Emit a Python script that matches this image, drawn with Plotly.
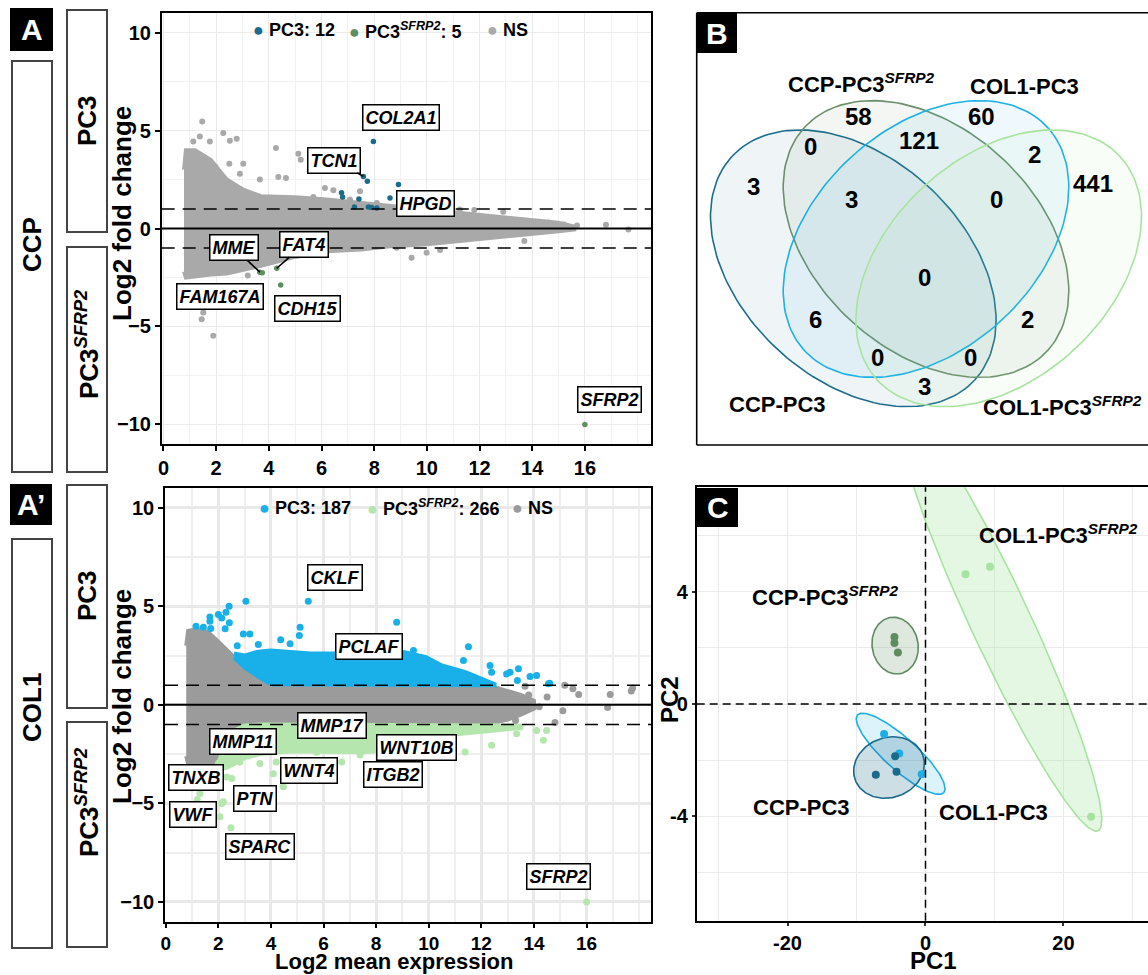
import numpy as np
import plotly.graph_objects as go

W, H = 1148, 975
FONT = "Liberation Sans, Arial, Helvetica, sans-serif"


def px(x):
    return x / W


def py(y):
    return 1 - y / H


# ---------------- DATA ----------------
# Panel A (CCP): MA plot
ccp_env_x = [0.78, 0.85, 1.2, 1.8, 2.4, 3.0, 3.7, 5.0, 6.2, 7.5, 8.7, 10.0, 11.3, 12.5, 13.8, 15.0, 15.6]
ccp_env_hi = [3.0, 4.0, 4.0, 3.5, 2.5, 2.0, 1.65, 1.6, 1.48, 1.3, 1.17, 0.97, 0.8, 0.63, 0.46, 0.29, 0.1]
ccp_env_lo = [-2.2, -2.5, -2.45, -2.35, -2.3, -2.1, -1.9, -1.45, -1.16, -1.07, -0.9, -0.81, -0.64, -0.47, -0.3, -0.14, -0.05]
ccp_ns_x = [1.47, 2.27, 2.52, 2.78, 1.38, 1.13, 1.76, 4.27, 5.12, 5.21, 3.03, 1.96, 2.50, 4.36, 4.65, 3.66,
            6.13, 6.45, 5.69, 7.46, 7.08, 8.10, 11.25, 16.8, 17.65, 15.7, 13.7, 9.42, 9.99, 8.85, 5.81,
            1.51, 1.89, 1.45, 1.77, 14.6, 15.2, 12.9, 10.5, 11.8, 3.2, 2.9]
ccp_ns_y = [5.46, 4.87, 4.48, 4.58, 4.70, 4.44, 4.44, 4.11, 3.82, 3.51, 3.31, 3.17, 3.30, 2.63, 2.58, 2.50,
            2.07, 1.95, 1.61, 1.90, 1.48, 1.30, 0.97, 0.19, -0.05, 0.15, -0.64, -1.49, -1.24, -0.98, -1.24,
            -4.29, -5.48, -4.63, -3.95, 0.3, 0.2, 0.85, -1.1, 0.95, -2.4, 2.8]
ccp_pc3_x = [7.97, 7.59, 7.74, 8.92, 6.76, 6.80, 7.42, 8.60, 7.25, 7.78, 7.90, 8.10]
ccp_pc3_y = [4.44, 2.66, 2.41, 2.24, 1.82, 1.61, 1.51, 1.56, 1.10, 1.10, 1.07, 1.05]
ccp_sfrp2_x = [3.66, 3.75, 4.30, 4.45, 16.0]
ccp_sfrp2_y = [-2.23, -2.26, -2.03, -2.88, -10.0]
ccp_counts = {"PC3": 12, "PC3_SFRP2": 5}
ccp_genes = ["COL2A1", "TCN1", "HPGD", "MME", "FAT4", "FAM167A", "CDH15", "SFRP2"]
ccp_gene_x = [7.97, 7.59, 8.60, 3.66, 4.30, 3.75, 4.45, 16.0]
ccp_gene_y = [4.44, 2.66, 1.56, -2.23, -2.03, -2.26, -2.88, -10.0]

# Panel A' (COL1): MA plot
col_env_x = [0.78, 0.85, 1.2, 1.6, 2.0, 2.3, 2.6, 3.0, 3.6, 4.0, 5, 6, 7, 8, 9, 10, 11, 12, 12.5, 13.0, 13.5, 14.0]
col_env_hi = [3.0, 3.75, 3.85, 3.7, 3.2, 2.8, 2.4, 1.9, 1.35, 1.05, 1, 1, 1, 1, 1, 1, 1, 1, 0.9, 0.7, 0.5, 0.2]
col_env_lo = [-2.6, -3.0, -3.0, -3.0, -2.9, -2.0, -1.3, -1.05, -1.0, -1.0, -1, -1, -1, -1, -1, -1, -1, -1, -0.9, -0.75, -0.5, -0.2]
col_up_x = [2.6, 3.0, 3.5, 4.0, 5.5, 6.4, 7.4, 9.0, 9.9, 10.5, 11.4, 12.1, 12.5]
col_up_hi = [2.6, 2.5, 2.7, 2.76, 2.6, 2.6, 2.76, 2.7, 2.42, 2.0, 1.66, 1.3, 1.05]
col_up_lo = [2.4, 1.9, 1.45, 1.05, 1.0, 1.0, 1.0, 1.0, 1.0, 1.0, 1.0, 1.0, 1.0]
col_dn_x = [2.0, 2.3, 2.6, 3.0, 3.6, 4.8, 6.1, 7.4, 8.0, 8.6, 9.9, 11.2, 12.5, 13.3]
col_dn_hi = [-2.9, -2.0, -1.3, -1.05, -1, -1, -1, -1, -1, -1, -1, -1, -1, -1.05]
col_dn_lo = [-3.2, -3.2, -3.0, -2.7, -2.5, -2.35, -2.35, -2.4, -2.35, -1.85, -1.65, -1.45, -1.3, -1.2]
col_ns_x = [15.17, 15.48, 15.7, 16.9, 16.8, 17.7, 17.75, 15.1, 14.8, 13.66, 13.09, 13.8, 14.2, 12.8, 13.3, 14.5]
col_ns_y = [0.99, 0.82, 0.53, 0.53, -0.13, 0.70, 0.85, -0.30, -0.90, 0.94, 0.06, 0.5, -0.1, -0.6, -0.8, 0.4]
col_pc3_x = [3.05, 5.42, 2.41, 2.29, 2.00, 2.13, 1.68, 1.68, 1.43, 1.15, 1.71, 2.26, 2.42, 2.95, 3.20, 5.11,
             5.08, 8.78, 11.51, 4.37, 4.73, 2.72, 3.52, 11.32, 12.33, 12.39, 12.96, 13.09, 13.41, 13.85,
             14.10, 14.55, 13.37, 9.42, 14.6]
col_pc3_y = [5.26, 5.26, 5.00, 4.70, 4.58, 4.41, 4.45, 4.24, 3.94, 3.99, 3.87, 3.86, 4.16, 3.60, 3.60, 3.94,
             3.52, 4.19, 2.95, 3.30, 3.10, 3.00, 3.06, 2.25, 2.00, 1.65, 1.57, 1.65, 1.83, 1.44,
             1.49, 1.07, 1.24, 2.76, 1.09]
col_sfrp2_x = [2.13, 2.48, 2.06, 2.19, 1.68, 1.30, 2.32, 2.51, 2.00, 2.82, 3.58, 4.20, 4.47, 4.09, 5.74,
               6.69, 7.39, 11.38, 12.39, 14.36, 14.48, 14.10, 13.47, 13.34, 16.0, 1.0, 1.2]
col_sfrp2_y = [-5.00, -6.24, -5.68, -4.92, -5.43, -4.50, -3.66, -3.74, -2.98, -2.90, -2.98, -2.90, -4.16,
               -3.50, -2.40, -2.90, -2.55, -2.39, -2.05, -1.80, -1.30, -1.30, -1.12, -1.46, -10.0, -4.2, -4.8]
col_counts = {"PC3": 187, "PC3_SFRP2": 266}
col_genes = ["CKLF", "PCLAF", "MMP17", "MMP11", "WNT10B", "WNT4", "ITGB2", "TNXB", "PTN", "VWF", "SPARC", "SFRP2"]

# Panel B: Venn counts
venn_sets = ["CCP-PC3", "CCP-PC3<sup><i>SFRP2</i></sup>", "COL1-PC3", "COL1-PC3<sup><i>SFRP2</i></sup>"]
venn_counts = [3, 58, 60, 441, 0, 121, 2, 3, 0, 0, 6, 2, 0, 0, 3]

# Panel C: PCA
pca_groups = ["CCP-PC3", "CCP-PC3<sup><i>SFRP2</i></sup>", "COL1-PC3", "COL1-PC3<sup><i>SFRP2</i></sup>"]
pca_pc1 = [[-7.2, -4.2, -4.4], [-4.5, -4.5, -4.0], [-6.0, -3.8, -0.55], [5.8, 9.35, 24.0]]
pca_pc2 = [[-2.52, -2.41, -1.86], [2.38, 2.17, 1.83], [-1.07, -1.76, -2.5], [4.62, 4.88, -4.01]]

# ---------------- STYLE ----------------
C_A_NS, C_A_PC3, C_A_SF = "#a9a9a9", "#1c6b8b", "#5f8f5f"
C_B_NS, C_B_PC3, C_B_SF = "#9b9b9b", "#19b0ea", "#b4e6ad"
PCA_COLORS = ["#1a6a8a", "#5e8b60", "#1eaee6", "#a6e3a0"]
PCA_FILLS = ["rgba(26,106,138,0.22)", "rgba(94,139,96,0.2)", "rgba(30,174,230,0.15)", "rgba(166,227,160,0.3)"]
VENN_COLORS = ["#1b6d8e", "#6b8f6b", "#1ab0e8", "#a8e4a0"]
VENN_FILLS = ["rgba(27,109,142,0.07)", "rgba(107,143,107,0.08)", "rgba(26,176,232,0.07)", "rgba(168,228,160,0.08)"]

fig = go.Figure()


def band(ex, hi, lo, color, xa, ya, lw=4):
    fig.add_trace(go.Scatter(x=list(ex) + list(ex[::-1]), y=list(hi) + list(lo[::-1]), fill="toself",
                             fillcolor=color, mode="lines", line=dict(color=color, width=lw),
                             xaxis=xa, yaxis=ya, hoverinfo="skip", showlegend=False))


def pts(x, y, color, size, xa, ya):
    fig.add_trace(go.Scatter(x=x, y=y, mode="markers", marker=dict(color=color, size=size, line=dict(width=0)),
                             xaxis=xa, yaxis=ya, hoverinfo="skip", showlegend=False, cliponaxis=True))


def ellipse(cx, cy, a, b, ang, n=160):
    t = np.linspace(0, 2 * np.pi, n)
    th = np.radians(ang)
    ex, ey = a * np.cos(t), b * np.sin(t)
    return ex * np.cos(th) - ey * np.sin(th) + cx, ex * np.sin(th) + ey * np.cos(th) + cy


# Panel A
band(ccp_env_x, ccp_env_hi, ccp_env_lo, C_A_NS, "x", "y")
pts(ccp_ns_x, ccp_ns_y, C_A_NS, 6, "x", "y")
pts(ccp_pc3_x, ccp_pc3_y, C_A_PC3, 5.5, "x", "y")
pts(ccp_sfrp2_x, ccp_sfrp2_y, C_A_SF, 5.5, "x", "y")

# Panel A'
band(col_env_x, col_env_hi, col_env_lo, C_B_NS, "x2", "y2")
band(col_up_x, col_up_hi, col_up_lo, C_B_PC3, "x2", "y2")
band(col_dn_x, col_dn_hi, col_dn_lo, C_B_SF, "x2", "y2")
pts(col_ns_x, col_ns_y, C_B_NS, 7, "x2", "y2")
pts(col_pc3_x, col_pc3_y, C_B_PC3, 7, "x2", "y2")
pts(col_sfrp2_x, col_sfrp2_y, C_B_SF, 7, "x2", "y2")

# Panel B: Venn ellipses (pixel space of the panel)
venn_geom = [(853.3, 268.3, 42.6), (926, 239, 42.6), (926, 239, -42.6), (998.7, 268.3, -42.6)]
for (cx, cy, ang), lc, fc in zip(venn_geom, VENN_COLORS, VENN_FILLS):
    ex, ey = ellipse(cx, cy, 165, 111, ang)
    fig.add_trace(go.Scatter(x=ex, y=ey, mode="lines", fill="toself", fillcolor=fc,
                             line=dict(color=lc, width=1.6), xaxis="x3", yaxis="y3",
                             hoverinfo="skip", showlegend=False))

# Panel C: ellipses (defined in screen pixels, converted by axis scale)
SX, SY = 6.9, 28.1
pca_ell = [(-5.29, -2.26, 36, 30, -20), (-4.4, 2.08, 28.5, 23, 80), (-3.6, -1.77, 58, 16, 42),
           (10.8, 2.97, 232, 30, 65)]
order = [3, 2, 0, 1]
for i in order:
    cx, cy, a, b, ang = pca_ell[i]
    ex, ey = ellipse(0, 0, a, b, ang)
    fig.add_trace(go.Scatter(x=cx + ex / SX, y=cy - ey / SY, mode="lines", fill="toself",
                             fillcolor=PCA_FILLS[i], line=dict(color=PCA_COLORS[i], width=1.6),
                             xaxis="x4", yaxis="y4", hoverinfo="skip", showlegend=False))
for i in order:
    pts(pca_pc1[i], pca_pc2[i], PCA_COLORS[i], 8, "x4", "y4")

# ---------------- AXES ----------------
tickfont = dict(family=FONT, size=20, color="black", weight="bold")
ma_common = dict(showline=True, linecolor="black", linewidth=1.6, mirror=True, ticks="outside",
                 ticklen=5, tickwidth=2, tickcolor="black", zeroline=False, tickfont=tickfont, showgrid=True,
                 automargin=False)
ma_common_x2 = dict(ma_common, tickfont=dict(tickfont, size=19), ticklen=4)

layout = dict(
    template="none",
    width=W, height=H, margin=dict(l=0, r=0, t=0, b=0, pad=0, autoexpand=False),
    paper_bgcolor="white", plot_bgcolor="white",
    showlegend=False, font=dict(family=FONT, color="black"),
    xaxis=dict(domain=[px(161.7), px(651)], range=[-0.068, 18.51], anchor="y", tickvals=list(range(0, 17, 2)),
               gridcolor="#ebebeb", gridwidth=1.2,
               minor=dict(dtick=1, tick0=0, showgrid=True, gridcolor="#f2f2f2", gridwidth=0.8), **ma_common),
    yaxis=dict(domain=[py(444), py(13)], range=[-11, 11], anchor="x", tickvals=[-10, -5, 0, 5, 10],
               gridcolor="#ebebeb", gridwidth=1.2,
               minor=dict(dtick=2.5, tick0=0, showgrid=True, gridcolor="#f2f2f2", gridwidth=0.8), **ma_common),
    xaxis2=dict(domain=[px(165), px(651)], range=[-0.027, 18.45], anchor="y2", tickvals=list(range(0, 17, 2)),
                gridcolor="#e9e9e9", gridwidth=2.6,
                minor=dict(dtick=1, tick0=0, showgrid=True, gridcolor="#efefef", gridwidth=1.6), **ma_common_x2),
    yaxis2=dict(domain=[py(921.7), py(488)], range=[-11, 11], anchor="x2", tickvals=[-10, -5, 0, 5, 10],
                gridcolor="#e9e9e9", gridwidth=2.6,
                minor=dict(dtick=2.5, tick0=0, showgrid=True, gridcolor="#efefef", gridwidth=1.6), **ma_common),
    xaxis3=dict(domain=[px(696.7), 1.0], range=[696.7, 1148], anchor="y3", visible=False, automargin=False),
    yaxis3=dict(domain=[py(445), py(12.7)], range=[445, 12.7], anchor="x3", visible=False, automargin=False),
    xaxis4=dict(domain=[px(696.7), 1.0], range=[-33.16, 32.25], anchor="y4", tickvals=[-20, 0, 20],
                ticktext=["-20", "0", "20"], showline=True, linecolor="black", linewidth=1.6, mirror=True,
                ticks="outside", ticklen=3, tickwidth=1.5, tickcolor="#333", zeroline=False, tickfont=tickfont,
                showgrid=True, gridcolor="#ebebeb", gridwidth=1, automargin=False,
                minor=dict(dtick=10, tick0=0, showgrid=True, gridcolor="#ebebeb", gridwidth=1)),
    yaxis4=dict(domain=[py(920.7), py(487.3)], range=[-7.71, 7.71], anchor="x4", tickvals=[-4, 0, 4],
                ticktext=["-4", "0", "4"], showline=True, linecolor="black", linewidth=1.6, mirror=False,
                ticks="outside", ticklen=3, tickwidth=1.5, tickcolor="#333", zeroline=False, tickfont=tickfont,
                showgrid=True, gridcolor="#ebebeb", gridwidth=1, automargin=False,
                minor=dict(dtick=2, tick0=0, showgrid=True, gridcolor="#ebebeb", gridwidth=1)),
)
fig.update_layout(**layout)

shapes = []
annos = []


def anno(**kw):
    kw.setdefault("xanchor", "center")
    kw.setdefault("yanchor", "middle")
    kw.setdefault("showarrow", False)
    annos.append(kw)


# threshold lines on MA plots
for xr, yr in (("x", "y"), ("x2", "y2")):
    for yv in (1, -1):
        shapes.append(dict(type="line", xref=f"{xr} domain", yref=yr, x0=0, x1=1, y0=yv, y1=yv,
                           line=dict(color="black", width=1.5, dash="13px,8px"), layer="above"))
    shapes.append(dict(type="line", xref=f"{xr} domain", yref=yr, x0=0, x1=1, y0=0, y1=0,
                       line=dict(color="black", width=2), layer="above"))
# PCA reference lines
shapes.append(dict(type="line", xref="x4", yref="y4 domain", x0=0, x1=0, y0=0, y1=1,
                   line=dict(color="black", width=1.5, dash="8px,5px"), layer="above"))
shapes.append(dict(type="line", xref="x4 domain", yref="y4", x0=0, x1=1, y0=0, y1=0,
                   line=dict(color="black", width=1.5, dash="8px,5px"), layer="above"))
# Venn frame
for (x0, y0, x1, y1) in [(696.7, 12.7, 696.7, 445), (696.7, 12.7, 1148, 12.7), (696.7, 445, 1148, 445)]:
    shapes.append(dict(type="line", xref="paper", yref="paper", x0=px(x0), y0=py(y0), x1=px(x1), y1=py(y1),
                       line=dict(color="black", width=1.6)))

# strips
strip_boxes = [(12, 61, 52, 472, "<b>CCP</b>", 32, 245), (67, 10, 107, 232, "<b>PC3</b>", 87, 121),
               (67, 247, 107, 472, "<b>PC3<sup><i>SFRP2</i></sup></b>", 87, 345),
               (12, 539, 52, 948, "<b>COL1</b>", 32, 708), (67, 485, 107, 708, "<b>PC3</b>", 87, 596),
               (67, 722, 107, 947, "<b>PC3<sup><i>SFRP2</i></sup></b>", 87, 803)]
for x0, y0, x1, y1, txt, tx, ty in strip_boxes:
    shapes.append(dict(type="rect", xref="paper", yref="paper", x0=px(x0), y0=py(y0), x1=px(x1), y1=py(y1),
                       line=dict(color="#444", width=2), fillcolor="white", layer="below"))
    anno(text=txt, xref="paper", yref="paper", x=px(tx), y=py(ty), textangle=-90,
         font=dict(size=26, family=FONT, color="black"))

# panel letters
for x0, y0, x1, y1, txt in [(10, 8, 53, 51, "A"), (10, 484, 52, 525, "A’"), (697, 13, 737, 53, "B"),
                            (697, 488, 738, 527, "C")]:
    shapes.append(dict(type="rect", xref="paper", yref="paper", x0=px(x0), y0=py(y0), x1=px(x1), y1=py(y1),
                       line=dict(width=0), fillcolor="black", layer="above"))
    anno(text=f"<b>{txt}</b>", xref="paper", yref="paper", x=px((x0 + x1) / 2), y=py((y0 + y1) / 2),
         font=dict(size=30, family=FONT, color="white"))

# axis titles
anno(text="<b>Log2 fold change</b>", xref="paper", yref="paper", x=px(122), y=py(214), textangle=-90,
     font=dict(size=26, family=FONT))
anno(text="<b>Log2 fold change</b>", xref="paper", yref="paper", x=px(122), y=py(697), textangle=-90,
     font=dict(size=26, family=FONT))
anno(text="<b>Log2 mean expression</b>", xref="paper", yref="paper", x=px(394), y=py(976), yanchor="bottom",
     font=dict(size=22, family=FONT))
anno(text="<b>PC1</b>", xref="paper", yref="paper", x=px(933), y=py(960), font=dict(size=24, family=FONT))
anno(text="<b>PC2</b>", xref="paper", yref="paper", x=px(669), y=py(700), textangle=-90,
     font=dict(size=24, family=FONT))


# in-plot legends
def legend_item(xpix, ypix, color, label):
    anno(text=f"<span style='color:{color}'>●</span> <b>{label}</b>", xref="paper", yref="paper",
         x=px(xpix), y=py(ypix), xanchor="left", font=dict(size=18, family=FONT, color="black"))


legend_item(251, 30, C_A_PC3, f"PC3: {ccp_counts['PC3']}")
legend_item(347, 30, C_A_SF, f"PC3<sup><i>SFRP2</i></sup>: {ccp_counts['PC3_SFRP2']}")
legend_item(485, 30, C_A_NS, "NS")
legend_item(257, 508, C_B_PC3, f"PC3: {col_counts['PC3']}")
legend_item(365, 508, C_B_SF, f"PC3<sup><i>SFRP2</i></sup>: {col_counts['PC3_SFRP2']}")
legend_item(510, 508, C_B_NS, "NS")

# gene labels
lab_font = dict(size=18, family=FONT, color="black")
ccp_label_pos = [(9.0, 5.65), (6.46, 3.49), (9.94, 1.26), (2.67, -0.98), (5.34, -0.81), (2.16, -3.46),
                 (5.48, -4.1), (16.95, -8.75)]
ccp_arrows = {"TCN1", "MME", "FAT4"}
for g, gx, gy, (lx, ly) in zip(ccp_genes, ccp_gene_x, ccp_gene_y, ccp_label_pos):
    d = dict(text=f"<b><i>{g}</i></b>", xref="x", yref="y", bgcolor="white", bordercolor="black",
             borderwidth=1.5, borderpad=2, font=lab_font)
    if g in ccp_arrows:
        d.update(x=gx, y=gy, ax=lx, ay=ly, axref="x", ayref="y", showarrow=True, arrowhead=0,
                 arrowwidth=1.6, arrowcolor="black", standoff=0)
    else:
        d.update(x=lx, y=ly)
    anno(**d)

col_label_pos = [(6.43, 6.46), (7.74, 2.96), (6.31, -1.05), (2.92, -1.88), (9.52, -2.14), (5.46, -3.33),
                 (8.66, -3.52), (1.16, -3.67), (3.41, -4.77), (1.02, -5.54), (3.58, -7.16), (14.95, -8.73)]
for g, (lx, ly) in zip(col_genes, col_label_pos):
    anno(text=f"<b><i>{g}</i></b>", xref="x2", yref="y2", x=lx, y=ly,
         bgcolor="white", bordercolor="black", borderwidth=1.5, borderpad=2, font=lab_font)

# Venn numbers and set names
venn_pos = [(753.3, 186), (858.3, 116.7), (981.7, 116.7), (1093.3, 183.3), (810, 146.7), (919, 140),
            (1034.3, 154), (851.7, 199.3), (996.7, 199.3), (924, 277.3), (815, 319.3), (1027.7, 319.3),
            (877.3, 357.7), (970.7, 357.7), (924, 386.7)]
for n, (vx, vy) in zip(venn_counts, venn_pos):
    anno(text=f"<b>{n}</b>", xref="x3", yref="y3", x=vx, y=vy, font=dict(size=24, family=FONT, color="black"))
venn_name_pos = [(777, 404), (861, 83), (1024, 86), (1062, 406)]
for name, (vx, vy) in zip(venn_sets, venn_name_pos):
    anno(text=f"<b>{name}</b>", xref="x3", yref="y3", x=vx, y=vy, font=dict(size=22, family=FONT, color="black"))

# PCA group names
pca_name_pos = [(-18.0, -3.68), (-14.5, 3.85), (9.8, -3.85), (19.3, 6.06)]
for name, (gx, gy) in zip(pca_groups, pca_name_pos):
    anno(text=f"<b>{name}</b>", xref="x4", yref="y4", x=gx, y=gy, font=dict(size=22, family=FONT, color="black"))

fig.update_layout(shapes=shapes, annotations=annos)
fig.write_html("out.html", config={"displayModeBar": False},
               post_script="document.body.style.margin='0';document.body.style.overflow='hidden';")
